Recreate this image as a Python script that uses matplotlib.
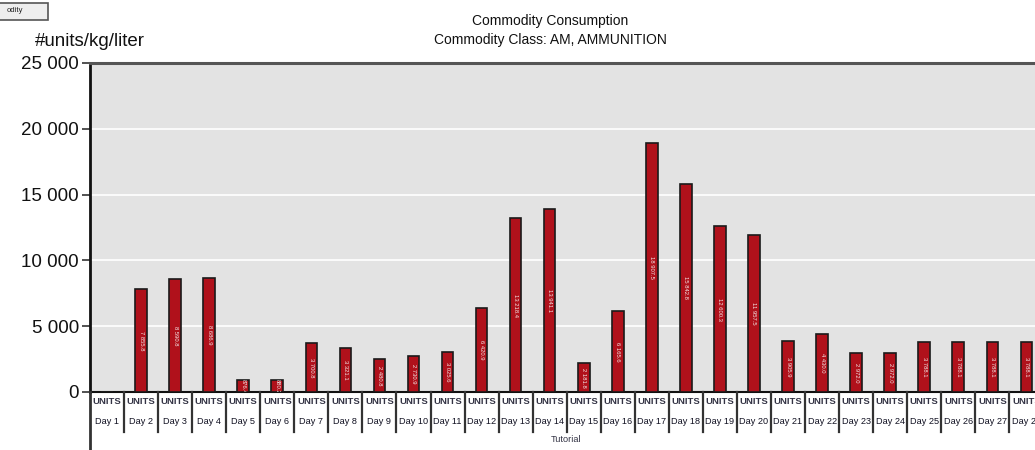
import matplotlib
matplotlib.use("Agg")
import matplotlib.pyplot as plt
from matplotlib.patches import Rectangle
import matplotlib.transforms as mtransforms

plt.rcParams['font.family'] = ['Liberation Sans', 'DejaVu Sans']

# Daily consumption, ammunition class
days = [f"Day {i}" for i in range(1, 29)]
units = ["UNITS"] * 28
consumption = [
    0.0, 7855.8, 8590.8, 8686.9, 876.4, 880.2, 3700.8, 3321.1, 2480.8, 2730.9,
    3025.6, 6420.9, 13218.4, 13941.1, 2181.8, 6165.6, 18907.5, 15842.8, 12600.3, 11957.5,
    3905.9, 4430.0, 2972.0, 2972.0, 3788.1, 3788.1, 3788.1, 3788.1,
]
y_ticks = [0, 5000, 10000, 15000, 20000, 25000]
y_tick_labels = ["0", "5 000", "10 000", "15 000", "20 000", "25 000"]


def fmt(v):
    whole = int(v)
    frac = round((v - whole) * 10)
    return f"{whole:,}".replace(",", " ") + f".{frac}"


W, H = 1035, 450
fig = plt.figure(figsize=(W / 100, H / 100), dpi=100)
fig.patch.set_facecolor("white")

left, right, top, bottom = 90, 1035, 63, 392
ax = fig.add_axes([left / W, (H - bottom) / H, (right - left) / W, (bottom - top) / H])
ax.set_facecolor("#e3e3e3")

x = list(range(len(days)))
bars = ax.bar(x, consumption, width=0.34, color="#b0111b", edgecolor="#1a1a1a",
              linewidth=1.2, zorder=3)

cell = 34.05
ax.set_xlim(-0.5, -0.5 + (right - left) / cell)
ax.set_ylim(0, 25000)
ax.set_yticks(y_ticks)
ax.set_yticklabels(y_tick_labels, fontsize=13.5, color="#111111")
ax.tick_params(axis="y", direction="out", length=6, width=1.2, color="#333333", pad=2)
ax.set_xticks([])
for yv in y_ticks[1:-1]:
    ax.axhline(yv, color="white", lw=1.2, zorder=1)

ax.spines["right"].set_visible(False)
ax.spines["top"].set_color("#555555")
ax.spines["top"].set_linewidth(2.2)
ax.spines["left"].set_color("#111111")
ax.spines["left"].set_linewidth(2)
ax.spines["bottom"].set_color("#111111")
ax.spines["bottom"].set_linewidth(1.5)

# value labels inside the bars
for xi, v in zip(x, consumption):
    if v <= 0:
        continue
    ax.text(xi, v / 2, fmt(v), rotation=-90, ha="center", va="center",
            fontsize=4.2, color="#f2e6e6", zorder=4, clip_on=True)

# category table beneath the axis
tr = mtransforms.blended_transform_factory(ax.transData, ax.transAxes)
ph = bottom - top
def fy(px):
    return -(px - bottom) / ph

for i in range(len(days) + 1):
    xb = i - 0.5
    y_end = fy(450) if i == 0 else fy(432)
    ax.plot([xb, xb], [0, y_end], transform=tr, color="#333333",
            lw=1.6 if i else 2, clip_on=False, zorder=5)

for xi, (u, d) in enumerate(zip(units, days)):
    ax.text(xi, fy(401), u, transform=tr, ha="center", va="center",
            fontsize=6.8, fontweight="bold", color="#333344", clip_on=False)
    ax.text(xi, fy(421), d, transform=tr, ha="center", va="center",
            fontsize=6.6, color="#111122", clip_on=False)

fig.text(566 / W, 1 - 440 / H, "Tutorial", ha="center", va="center",
         fontsize=6.6, color="#333344")

# titles
fig.text(550 / W, 1 - 21 / H, "Commodity Consumption", ha="center", va="center",
         fontsize=10, color="#111111")
fig.text(550 / W, 1 - 40 / H, "Commodity Class: AM, AMMUNITION", ha="center",
         va="center", fontsize=10, color="#111111")
fig.text(35 / W, 1 - 42 / H, "#units/kg/liter", ha="left", va="center",
         fontsize=13.5, color="#111111")

# partially visible toolbar button
btn = Rectangle((-6 / W, 1 - 20 / H), 54 / W, 17 / H, transform=fig.transFigure,
                facecolor="#eeeeee", edgecolor="#555555", lw=1.2)
fig.patches.append(btn)
fig.text(7 / W, 1 - 11 / H, "odity", ha="left", va="center", fontsize=5.5,
         color="#222222")

fig.savefig("out.png", dpi=100)
